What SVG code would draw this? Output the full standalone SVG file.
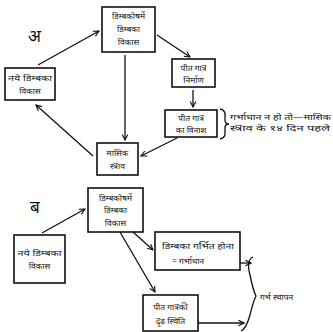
<svg xmlns="http://www.w3.org/2000/svg" width="333" height="332" viewBox="0 0 333 332">
<style>
.box{fill:#fff;stroke:#111;stroke-width:1.6}
.t{font-family:"Noto Sans","Noto Sans Devanagari","Lohit Devanagari","FreeSans",sans-serif;font-size:8.5px;fill:#111;text-anchor:middle}
.n{font-family:"Noto Sans","Noto Sans Devanagari","Lohit Devanagari","FreeSans",sans-serif;font-size:8.5px;fill:#111}
.big{font-family:"Noto Sans","Noto Sans Devanagari","Lohit Devanagari","FreeSans",sans-serif;font-size:17px;fill:#111}
.c{fill:none;stroke:#111;stroke-width:1.3}
</style>
<defs>
<marker id="ah" viewBox="0 0 10 10" refX="9" refY="5" markerWidth="7" markerHeight="7" orient="auto" markerUnits="userSpaceOnUse">
<path d="M1,1 L9,5 L1,9" fill="none" stroke="#111" stroke-width="1.6"/>
</marker>
</defs>
<rect width="333" height="332" fill="#fff"/>
<text class="big" x="28" y="42">अ</text>
<text class="big" x="30" y="213">ब</text>
<g id="connectors">
<line class="c" x1="38" y1="65" x2="99" y2="31" marker-end="url(#ah)"/>
<line class="c" x1="157" y1="35" x2="190" y2="57" marker-end="url(#ah)"/>
<line class="c" x1="193" y1="90" x2="193" y2="107" marker-end="url(#ah)"/>
<line class="c" x1="177" y1="138" x2="141" y2="156" marker-end="url(#ah)"/>
<line class="c" x1="125" y1="55" x2="125" y2="140" marker-end="url(#ah)"/>
<line class="c" x1="93" y1="156" x2="36" y2="105" marker-end="url(#ah)"/>
<line class="c" x1="42" y1="233" x2="85" y2="209" marker-end="url(#ah)"/>
<line class="c" x1="133" y1="232" x2="153" y2="250" marker-end="url(#ah)"/>
<line class="c" x1="120" y1="232" x2="155" y2="292" marker-end="url(#ah)"/>
<line class="c" x1="240" y1="263" x2="251" y2="263" marker-end="url(#ah)"/>
<line class="c" x1="198" y1="323" x2="244" y2="323" marker-end="url(#ah)"/>
<path class="c" d="M220,109 Q226,110 225,117 L225,120 Q225,124 229,124 Q225,124 225,128 L225,131 Q226,138 220,139"/>
<path class="c" d="M253,257 Q246,260 250,275 Q253,290 256,296 Q253,302 250,315 Q246,329 241,331"/>
</g>
<g id="a-top"><rect class="box" x="102" y="7" width="53" height="45"/><text class="t" x="128.5" y="19">डिम्बकोषमें</text><text class="t" x="128.5" y="32">डिम्बका</text><text class="t" x="128.5" y="45">विकास</text></g>
<g id="a-right"><rect class="box" x="172" y="59" width="43" height="28"/><text class="t" x="193.5" y="71">पीत गात्र</text><text class="t" x="193.5" y="83">निर्माण</text></g>
<g id="a-destroy"><rect class="box" x="165" y="110" width="52" height="27"/><text class="t" x="191" y="121">पीत गात्र</text><text class="t" x="191" y="133">का विनाश</text></g>
<g id="a-note"><text class="n" x="230" y="120" textLength="101" lengthAdjust="spacingAndGlyphs">गर्भाधान न हो तो—मासिक</text><text class="n" x="230" y="131" textLength="100" lengthAdjust="spacingAndGlyphs">स्त्राव के १४ दिन पहले</text></g>
<g id="a-bottom"><rect class="box" x="97" y="143" width="41" height="32"/><text class="t" x="117.5" y="156">मासिक</text><text class="t" x="117.5" y="169">स्त्राव</text></g>
<g id="a-left"><rect class="box" x="5" y="68" width="50" height="32"/><text class="t" x="30" y="81" textLength="44" lengthAdjust="spacingAndGlyphs">नये डिम्बका</text><text class="t" x="30" y="94">विकास</text></g>
<g id="b-top"><rect class="box" x="88" y="188" width="55" height="44"/><text class="t" x="115.5" y="201">डिम्बकोषमें</text><text class="t" x="115.5" y="213">डिम्बका</text><text class="t" x="115.5" y="226">विकास</text></g>
<g id="b-left"><rect class="box" x="14" y="235" width="51" height="48"/><text class="t" x="39.5" y="256" textLength="44" lengthAdjust="spacingAndGlyphs">नये डिम्बका</text><text class="t" x="39.5" y="269">विकास</text></g>
<g id="b-fert"><rect class="box" x="155" y="232" width="85" height="38"/><text class="t" x="198" y="249" textLength="72" lengthAdjust="spacingAndGlyphs">डिम्बका गर्भित होना</text><text class="t" x="188" y="264">= गर्भाधान</text></g>
<g id="b-cl"><rect class="box" x="143" y="295" width="55" height="36"/><text class="t" x="170.5" y="310">पीत गात्रकी</text><text class="t" x="170.5" y="324">दृढ स्थिति</text></g>
<g id="b-note"><text class="n" x="260" y="300">गर्भ स्थापन</text></g>
</svg>
